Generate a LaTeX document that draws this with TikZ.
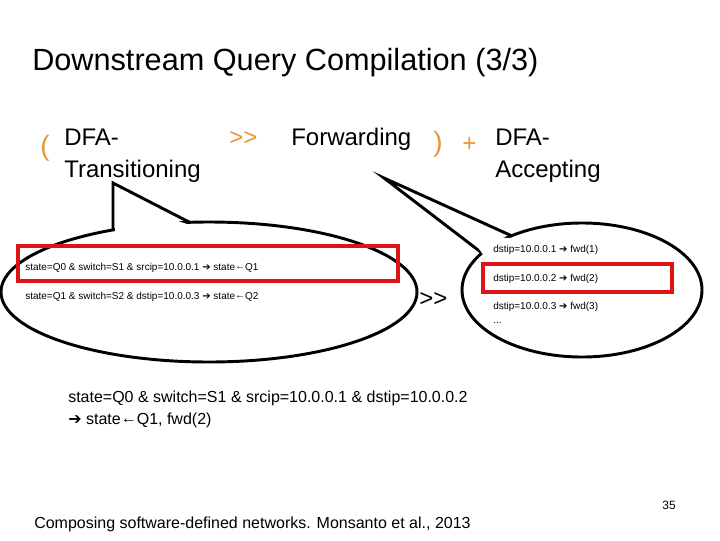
\documentclass[tikz,border=0pt]{standalone}
\usepackage{fontspec}
\setmainfont{Liberation Sans}
\newfontfamily\arrfont{DejaVu Sans}
\newcommand{\ar}{{\arrfont\fontsize{7.5}{8}\selectfont ➔}}
\newcommand{\arb}{{\arrfont\fontsize{12}{12}\selectfont ➔}}
\begin{document}
\begin{tikzpicture}[x=0.75pt,y=-0.75pt,
  big/.style={anchor=base west,font=\fontsize{18}{21}\selectfont,inner sep=0},
  op/.style={big,text={rgb,255:red,232;green,150;blue,50}},
  sm/.style={anchor=base west,font=\fontsize{7.5}{9}\selectfont,inner sep=0},
  mid/.style={anchor=base west,font=\fontsize{12}{14}\selectfont,inner sep=0},
  bubble/.style={draw=black,line width=2.2pt,fill=white},
  redbox/.style={draw={rgb,255:red,220;green,20;blue,20},line width=2.6pt}]
\useasboundingbox (0,0) rectangle (720,540);
\node[anchor=base west,font=\fontsize{23}{27}\selectfont,inner sep=0] (title) at (32,70) {Downstream Query Compilation (3/3)};
\node[op,font=\fontsize{21}{24}\selectfont] (lp) at (40,155) {(};
\node[big] (d1) at (64,145) {DFA-};
\node[big] (d2) at (64,177) {Transitioning};
\node[op] (gg) at (229,145) {{>}{>}};
\node[big] (fw) at (291,145) {Forwarding};
\node[op,font=\fontsize{21}{24}\selectfont] (rp) at (433,151) {)};
\node[op] (pl) at (462,151) {+};
\node[big] (a1) at (495,145) {DFA-};
\node[big] (a2) at (495,177) {Accepting};
% tails
\draw[bubble,line join=miter] (113,245) -- (113,183) -- (189,222) -- (189,240) -- cycle;
\draw[bubble,line join=miter] (482,253) -- (384,178) -- (512,236) -- (512,255) -- cycle;
% ellipses
\draw[bubble] (209,292) ellipse (208 and 70);
\draw[bubble] (582,290) ellipse (120 and 67);
\fill[white] (115,245) -- (115,200) -- (187,224) -- (187,245) -- cycle;
\fill[white] (484,256) -- (470,236) -- (510,238) -- (510,258) -- cycle;
\node[sm] (l1) at (25,270) {state=Q0 \& switch=S1 \& srcip=10.0.0.1 \ar\ state\raisebox{.1ex}{←}Q1};
\node[sm] (l2) at (25,299) {state=Q1 \& switch=S2 \& dstip=10.0.0.3 \ar\ state\raisebox{.1ex}{←}Q2};
\node[big] (gg2) at (419,306) {{>}{>}};
\node[sm] (r1) at (493,252) {dstip=10.0.0.1 \ar\ fwd(1)};
\node[sm] (r2) at (493,281) {dstip=10.0.0.2 \ar\ fwd(2)};
\node[sm] (r3) at (493,309) {dstip=10.0.0.3 \ar\ fwd(3)};
\node[sm] (r4) at (493,323) {...};
\draw[redbox] (18,246) rectangle (398,281);
\draw[redbox] (483,264) rectangle (672,292);
\node[mid] (c1) at (68,402) {state=Q0 \& switch=S1 \& srcip=10.0.0.1 \& dstip=10.0.0.2};
\node[mid] (c2) at (68,424) {\arb\ state\raisebox{.1ex}{←}Q1, fwd(2)};
\node[mid] (cite) at (34,528) {Composing software-defined networks. Monsanto et al., 2013};
\node[anchor=base east,font=\fontsize{9}{11}\selectfont,inner sep=0] (pg) at (676,509) {35};
\end{tikzpicture}
\end{document}
